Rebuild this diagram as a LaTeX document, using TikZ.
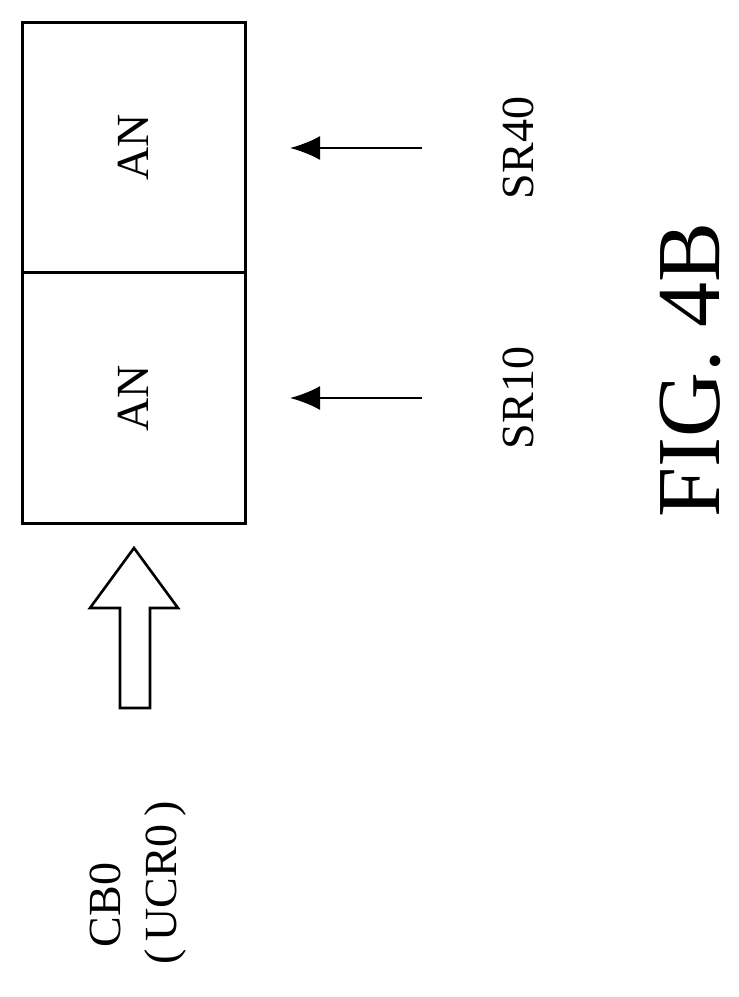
\documentclass[tikz,border=0pt]{standalone}
\usepackage{fontspec}
\setmainfont{Liberation Serif}
\usetikzlibrary{arrows.meta}
\begin{document}
\begin{tikzpicture}[x=1pt,y=-1pt,
  lbl/.style={rotate=90,font=\fontsize{46}{48}\selectfont,inner sep=0pt},
  box/.style={draw,line width=3pt},
  arr/.style={line width=2.4pt,-{Latex[length=30pt,width=24pt]}}]
\useasboundingbox (0,0) rectangle (739,997);
\node[box,minimum width=223pt,minimum height=250pt,inner sep=0pt] (b1) at (133.5,147) {};
\node[box,minimum width=223pt,minimum height=251pt,inner sep=0pt] (b2) at (133.5,397.5) {};
\node[lbl] (a1) at (133,147) {AN};
\node[lbl] (a2) at (133,398) {AN};
\node[lbl] (s4) at (518,148) {SR40};
\node[lbl] (s1) at (518,398) {SR10};
\coordinate (e4) at (422,148);
\coordinate (e1) at (422,398);
\draw[arr] (e4) -- (290,148);
\draw[arr] (e1) -- (290,398);
\draw[line width=2.6pt] (134,548) -- (178,608) -- (150,608) -- (150,708) -- (120,708) -- (120,608) -- (90,608) -- cycle;
\node[lbl] (cb) at (105,905) {CB0};
\node[lbl] (ucr) at (165,883) {(\,UCR0\,)};
\node[rotate=90,font=\fontsize{90}{94}\selectfont,inner sep=0pt] (fig) at (690,370) {FIG. 4B};
\end{tikzpicture}
\end{document}
